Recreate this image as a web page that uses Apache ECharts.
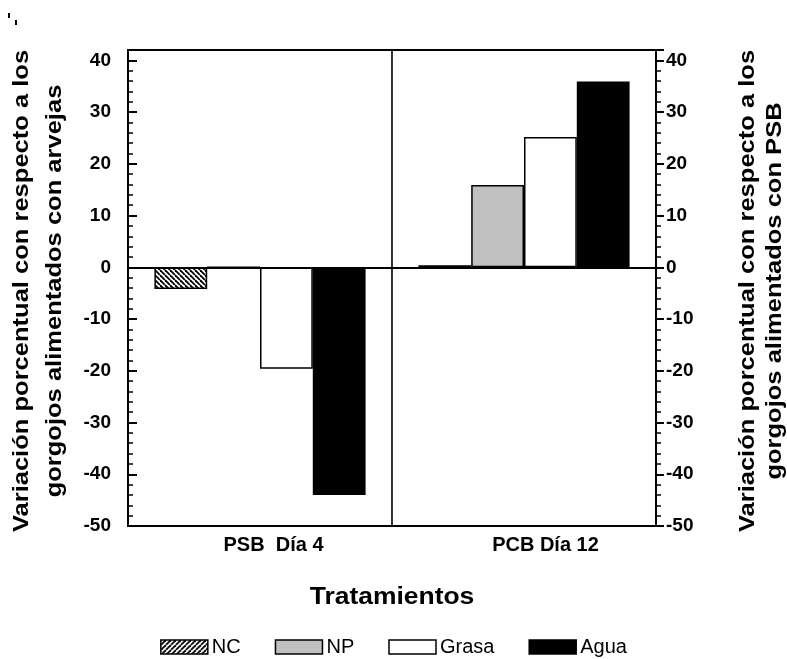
<!DOCTYPE html>
<html>
<head>
<meta charset="utf-8">
<script src="https://cdn.jsdelivr.net/npm/echarts@6/dist/echarts.min.js"></script>
<style>
  html, body { margin: 0; padding: 0; background: #fff; }
  #chart { width: 787px; height: 659px; }
</style>
</head>
<body>
<div id="chart"></div>
<script>
// Treatment groups and per-treatment percentage variation
const categories = ['PSB  Día 4', 'PCB Día 12'];
const seriesNames = ['NC', 'NP', 'Grasa', 'Agua'];
const ncValues = [-4.2, 0.4];
const npValues = [0, 15.9];
const grasaValues = [-19.6, 25.2];
const aguaValues = [-44.0, 35.9];

// Value axis range and tick steps
const yMin = -50;
const yMax = 42;
const yMajorStep = 10;
const yMinorStep = 2;

const FONT = "'Liberation Sans', Arial, sans-serif";

// Diagonal hatch tile used as a fill pattern
function hatch(dir) {
  const s = 5;
  const c = document.createElement('canvas');
  c.width = s; c.height = s;
  const g = c.getContext('2d');
  g.fillStyle = '#fff';
  g.fillRect(0, 0, s, s);
  g.strokeStyle = '#000';
  g.lineWidth = 1.8;
  for (const k of [-s, 0, s]) {
    g.beginPath();
    if (dir === 'down') { g.moveTo(k, 0); g.lineTo(k + s, s); }
    else { g.moveTo(k, s); g.lineTo(k + s, 0); }
    g.stroke();
  }
  return { image: c, repeat: 'repeat' };
}

const fills = [hatch('down'), '#c0c0c0', '#ffffff', '#000000'];
const legendFills = [hatch('up'), '#c0c0c0', '#ffffff', '#000000'];
const values = [ncValues, npValues, grasaValues, aguaValues];

const majorLabel = v => (v % yMajorStep === 0 ? String(v) : '');

function valueAxis(position, step, tickLen, inside, withLabels, labelMargin) {
  return {
    type: 'value',
    position: position,
    min: yMin,
    max: yMax,
    interval: step,
    axisLine: { show: withLabels, lineStyle: { color: '#000', width: 2 } },
    axisTick: {
      show: true,
      inside: inside,
      length: tickLen,
      lineStyle: { color: '#000', width: withLabels ? 2 : 1.5 }
    },
    axisLabel: {
      show: withLabels,
      formatter: majorLabel,
      margin: labelMargin,
      color: '#000',
      fontFamily: FONT,
      fontWeight: 'bold',
      fontSize: 19
    },
    splitLine: { show: false }
  };
}

const chart = echarts.init(document.getElementById('chart'), null, { renderer: 'canvas' });

chart.setOption({
  backgroundColor: '#fff',
  animation: false,
  grid: {
    left: 128,
    right: 131,
    top: 50,
    bottom: 133,
    show: true,
    borderColor: '#000',
    borderWidth: 2,
    containLabel: false,
    outerBoundsMode: 'none'
  },
  xAxis: {
    type: 'category',
    data: [
      { value: categories[0], textStyle: { padding: [0, 0, 0, 27] } },
      { value: categories[1], textStyle: { padding: [0, 0, 0, 43] } }
    ],
    axisLine: { show: true, lineStyle: { color: '#000', width: 2 } },
    axisTick: { show: false },
    axisLabel: {
      margin: 9,
      color: '#000',
      fontFamily: FONT,
      fontWeight: 'bold',
      fontSize: 20
    },
    splitLine: { show: true, interval: 0, lineStyle: { color: '#000', width: 1.6 } }
  },
  yAxis: [
    valueAxis('left', yMajorStep, 9, true, true, 17),
    valueAxis('left', yMinorStep, 5, true, false, 0),
    valueAxis('right', yMajorStep, 8, false, true, 10),
    valueAxis('right', yMinorStep, 5, false, false, 0)
  ],
  legend: {
    left: 'center',
    top: 632,
    itemWidth: 47,
    itemHeight: 14,
    itemGap: 34,
    icon: 'rect',
    itemStyle: { borderColor: '#000', borderWidth: 1.5 },
    textStyle: { color: '#000', fontFamily: FONT, fontSize: 20, padding: [0, 0, 0, -1] },
    data: seriesNames.map((n, i) => ({ name: n, itemStyle: { color: legendFills[i] } }))
  },
  series: seriesNames.map((name, i) => {
    const s = {
      name: name,
      type: 'bar',
      yAxisIndex: 0,
      barGap: '0%',
      barCategoryGap: '20%',
      data: values[i],
      itemStyle: { color: fills[i], borderColor: '#000', borderWidth: 1.5 }
    };
    if (i === 0) {
      s.markLine = {
        silent: true,
        symbol: 'none',
        label: { show: false },
        lineStyle: { color: '#000', width: 2, type: 'solid' },
        data: [{ yAxis: 0 }]
      };
    }
    return s;
  }),
  graphic: [
    {
      type: 'text',
      x: 38,
      y: 291,
      rotation: Math.PI / 2,
      scaleX: 1.16,
      style: {
        text: 'Variación porcentual con respecto a los\ngorgojos alimentados con arvejas',
        align: 'center',
        verticalAlign: 'middle',
        lineHeight: 33,
        fontFamily: FONT,
        fontWeight: 'bold',
        fontSize: 22,
        fill: '#000'
      }
    },
    {
      type: 'text',
      x: 761,
      y: 291,
      rotation: Math.PI / 2,
      scaleX: 1.16,
      style: {
        text: 'Variación porcentual con respecto a los\ngorgojos alimentados con PSB',
        align: 'center',
        verticalAlign: 'middle',
        lineHeight: 27,
        fontFamily: FONT,
        fontWeight: 'bold',
        fontSize: 22,
        fill: '#000'
      }
    },
    {
      type: 'text',
      x: 392,
      y: 598,
      scaleX: 1.15,
      style: {
        text: 'Tratamientos',
        align: 'center',
        verticalAlign: 'middle',
        fontFamily: FONT,
        fontWeight: 'bold',
        fontSize: 23,
        fill: '#000'
      }
    },
    { type: 'rect', shape: { x: 8, y: 13, width: 2, height: 5 }, style: { fill: '#000' } },
    { type: 'rect', shape: { x: 15, y: 20, width: 2, height: 5 }, style: { fill: '#000' } }
  ]
});
</script>
</body>
</html>
